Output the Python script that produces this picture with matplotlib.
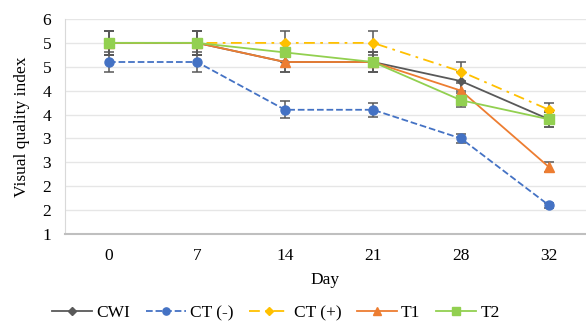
import matplotlib
matplotlib.use('Agg')
import matplotlib.pyplot as plt
import numpy as np
from matplotlib.ticker import FuncFormatter

days = ['0', '7', '14', '21', '28', '32']
series_names = ['CWI', 'CT (-)', 'CT (+)', 'T1', 'T2']

cwi = [5.0, 5.0, 4.6, 4.6, 4.2, 3.4]
ct_neg = [4.6, 4.6, 3.6, 3.6, 3.0, 1.6]
ct_pos = [5.0, 5.0, 5.0, 5.0, 4.4, 3.6]
t1 = [5.0, 5.0, 4.6, 4.6, 4.0, 2.4]
t2 = [5.0, 5.0, 4.8, 4.6, 3.8, 3.4]

cwi_err = [0.25, 0.25, 0.2, 0.2, 0.2, 0.15]
ct_neg_err = [0.2, 0.2, 0.18, 0.15, 0.1, 0.05]
ct_pos_err = [0.25, 0.25, 0.25, 0.25, 0.2, 0.15]
t1_err = [0.25, 0.25, 0.2, 0.2, 0.15, 0.1]
t2_err = [0.25, 0.25, 0.2, 0.2, 0.15, 0.15]

plt.rcParams['font.family'] = ['Liberation Serif', 'DejaVu Serif']
fs = 12.5

fig = plt.figure(figsize=(5.86, 3.22), dpi=100)
# plot area in pixels: left 65, top 19, bottom 234
ax = fig.add_axes([65 / 586, 1 - 234 / 322, (586 - 65) / 586, (234 - 19) / 322])

x = np.arange(len(days))
styles = [
    (cwi, cwi_err, '#595959', '-', 'D', 4.5),
    (ct_neg, ct_neg_err, '#4472C4', '--', 'o', 6.5),
    (ct_pos, ct_pos_err, '#FFC000', (0, (6, 3, 1.5, 3)), 'D', 5),
    (t1, t1_err, '#ED7D31', '-', '^', 6.5),
    (t2, t2_err, '#92D050', '-', 's', 6.5),
]
for name, (vals, errs, col, ls, mk, ms) in zip(series_names, styles):
    ax.errorbar(x, vals, yerr=errs, fmt='none', ecolor='#595959', elinewidth=1.1,
                capsize=3.5, capthick=1.1, zorder=2)
    ax.plot(x, vals, color=col, linestyle=ls, linewidth=1.3, marker=mk,
            markersize=ms, label=name, zorder=3)

ax.set_xlim(-0.5, 5.5 - 7 / 88)
ax.set_ylim(1, 5.5)
ax.set_yticks(np.arange(1, 5.51, 0.5))
ax.yaxis.set_major_formatter(FuncFormatter(lambda v, p: '%d' % int(v + 0.5)))
ax.set_xticks(x)
ax.set_xticklabels(days)
ax.tick_params(length=0, labelsize=fs, colors='black')
ax.tick_params(axis='x', pad=10)
ax.tick_params(axis='y', pad=10)
ax.grid(axis='y', color='#e6e6e6', linewidth=1)
ax.set_axisbelow(True)
for s in ['top', 'right']:
    ax.spines[s].set_visible(False)
ax.spines['left'].set_color('#d9d9d9')
ax.spines['bottom'].set_color('#bfbfbf')
ax.spines['bottom'].set_linewidth(1.5)

ax.set_xlabel('Day', fontsize=fs, labelpad=6)
ax.set_ylabel('Visual quality index', fontsize=fs, labelpad=9)

fig.legend(loc='center', bbox_to_anchor=(276 / 586, 1 - 313 / 322), ncol=5,
           frameon=False, fontsize=fs, handlelength=2.3, columnspacing=0.9,
           handletextpad=0.25, markerscale=0.8)

fig.savefig('out.png', dpi=100)
